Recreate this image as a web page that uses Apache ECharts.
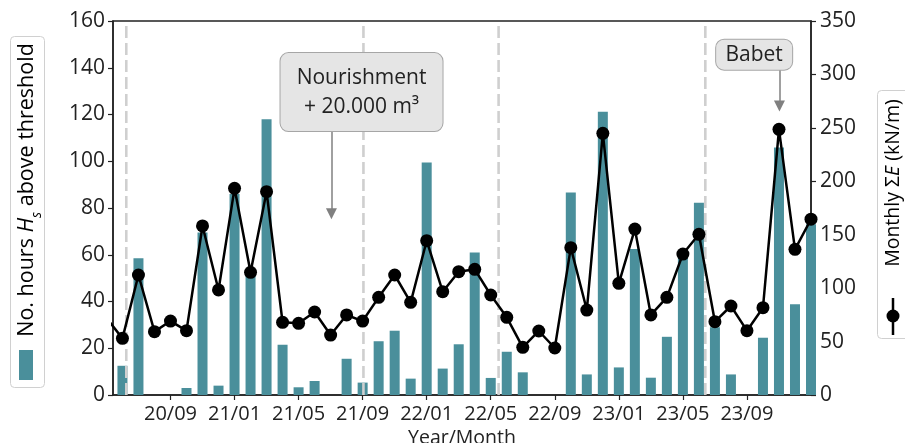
<!DOCTYPE html>
<html>
<head>
<meta charset="utf-8">
<script src="https://cdn.jsdelivr.net/npm/echarts@6/dist/echarts.min.js"></script>
<style>
  html, body { margin: 0; padding: 0; background: #fff; }
  #chart { width: 905px; height: 443px; }
</style>
</head>
<body>
<div id="chart"></div>
<script>
// Months from 2020-05 to 2024-01 (x position = index in this list)
const months = [
  '20/05','20/06','20/07','20/08','20/09','20/10','20/11','20/12',
  '21/01','21/02','21/03','21/04','21/05','21/06','21/07','21/08','21/09','21/10','21/11','21/12',
  '22/01','22/02','22/03','22/04','22/05','22/06','22/07','22/08','22/09','22/10','22/11','22/12',
  '23/01','23/02','23/03','23/04','23/05','23/06','23/07','23/08','23/09','23/10','23/11','23/12',
  '24/01'
];

// Number of hours with Hs above threshold, per month (left axis)
const hoursAbove = [
  null, 12.5, 58.5, 0, 0, 3, 69.5, 4,
  86, 52, 118, 21.5, 3.3, 6, 0, 15.5, 5.3, 23, 27.5, 7,
  99.5, 11.3, 21.7, 61, 7.3, 18.5, 9.7, 0, 0, 86.6, 8.8, 121.2,
  11.8, 62.5, 7.4, 24.9, 60, 82.2, 29, 8.8, 0, 24.5, 105.9, 38.8,
  73
];

// Monthly summed wave energy, kN/m (right axis)
const monthlyEnergy = [
  72, 53, 112.3, 59.3, 69.2, 60.2, 158.2, 98.3,
  193.4, 114.8, 190.3, 68, 67.1, 77.7, 56.1, 74.9, 69.2, 91.4, 112.3, 86.7,
  144.4, 96.7, 115.4, 117.6, 93.6, 72.7, 44.6, 59.9, 44, 137.9, 79.5, 244.9,
  104.5, 155.3, 74.9, 91.4, 131.9, 150.4, 68.6, 83.3, 60.2, 81.7, 248.6, 136.3,
  164.5
];

// Labelled months on the time axis
const tickMonths = ['20/09','21/01','21/05','21/09','22/01','22/05','22/09','23/01','23/05','23/09'];

// Survey / event dates drawn as dashed verticals (fractional month index)
const eventMarks = [1.24, 16.05, 24.49, 37.4];

// Visible time window (fractional month index)
const xStart = 0.41;
const xEnd = 44;

// Annotation anchors (month index, axis value)
const nourishment = { text: 'Nourishment\n+ 20.000 m³', box: [15.93, 129.6], arrowFrom: [14.05, 113.2], arrowTo: [14.05, 77.5] };
const babet = { text: 'Babet', box: [40.45, 318.5], arrowFrom: [42.03, 304.5], arrowTo: [42.03, 270.5] };

const TEAL = '#4a8f9b';
const FONT = 'Open Sans';

const tickValues = tickMonths.map(m => months.indexOf(m));
const barData = hoursAbove.map((v, i) => [i, v]);
const lineData = monthlyEnergy.map((v, i) => [i, v]);

const chart = echarts.init(document.getElementById('chart'), null, { renderer: 'canvas' });

const boxLabel = (text, w, pad) => ({
  show: true,
  position: 'inside',
  formatter: text,
  fontFamily: FONT,
  fontSize: 21,
  lineHeight: 29,
  color: '#222',
  backgroundColor: '#e5e5e5',
  borderColor: '#a6a6a6',
  borderWidth: 1,
  borderRadius: 8,
  width: w,
  align: 'center',
  padding: pad
});

const arrowMarkLine = (from, to) => ({
  silent: true,
  symbol: ['none', 'triangle'],
  symbolSize: 11,
  label: { show: false },
  lineStyle: { color: '#808080', width: 1.5, type: 'solid' },
  data: [[{ coord: from }, { coord: to }]]
});

// one dashed vertical per event, spanning the full left-axis range
const eventSeries = eventMarks.map(x => ({
  type: 'line',
  xAxisIndex: 0,
  yAxisIndex: 0,
  data: [[x, 0], [x, 160]],
  symbol: 'none',
  silent: true,
  z: 3,
  lineStyle: { color: '#cfcfcf', width: 2.6, type: [12, 5] }
}));

const axisLineStyle = { show: true, lineStyle: { color: '#222', width: 1.5 } };
const tickStyle = { show: true, inside: false, length: 5, lineStyle: { color: '#222', width: 1.2 } };

const option = {
  animation: false,
  backgroundColor: '#fff',
  textStyle: { fontFamily: FONT },
  grid: {
    left: 113, right: 94, top: 21, bottom: 48,
    outerBoundsMode: 'none',
    containLabel: false,
    show: true, borderColor: '#222', borderWidth: 1.5, backgroundColor: 'transparent'
  },
  xAxis: {
    type: 'value',
    min: xStart,
    max: xEnd,
    name: 'Year/Month',
    nameLocation: 'middle',
    nameGap: 33,
    nameTextStyle: { fontFamily: FONT, fontSize: 19.5, color: '#222' },
    axisLine: axisLineStyle,
    axisTick: Object.assign({ customValues: tickValues }, tickStyle),
    axisLabel: {
      show: true, customValues: tickValues, margin: 9,
      fontFamily: FONT, fontSize: 20, color: '#222',
      formatter: v => months[Math.round(v)]
    },
    splitLine: { show: false }
  },
  yAxis: [
    {
      type: 'value', min: 0, max: 160, interval: 20,
      axisLine: axisLineStyle,
      axisTick: tickStyle,
      axisLabel: { margin: 8, fontFamily: FONT, fontSize: 21, color: '#222' },
      splitLine: { show: false }
    },
    {
      type: 'value', min: 0, max: 350, interval: 50, position: 'right',
      axisLine: axisLineStyle,
      axisTick: tickStyle,
      axisLabel: { margin: 9, fontFamily: FONT, fontSize: 21, color: '#222' },
      splitLine: { show: false }
    }
  ],
  series: [
    {
      name: 'hours',
      type: 'bar',
      xAxisIndex: 0,
      yAxisIndex: 0,
      data: barData,
      barWidth: 10,
      itemStyle: { color: TEAL },
      clip: true,
      z: 2,
      silent: true,
      markLine: arrowMarkLine(nourishment.arrowFrom, nourishment.arrowTo),
      markPoint: {
        silent: true,
        symbol: 'rect',
        symbolSize: 1,
        itemStyle: { color: 'rgba(0,0,0,0)' },
        label: boxLabel(nourishment.text, 162, [10, 0, 10, 0]),
        data: [{ coord: nourishment.box }]
      }
    },
    ...eventSeries,
    {
      name: 'energy',
      type: 'line',
      xAxisIndex: 0,
      yAxisIndex: 1,
      data: lineData,
      clip: true,
      z: 4,
      silent: true,
      symbol: 'circle',
      symbolSize: 13,
      showAllSymbol: true,
      lineStyle: { color: '#000', width: 2.5 },
      itemStyle: { color: '#000' },
      markLine: arrowMarkLine(babet.arrowFrom, babet.arrowTo),
      markPoint: {
        silent: true,
        symbol: 'rect',
        symbolSize: 1,
        itemStyle: { color: 'rgba(0,0,0,0)' },
        label: boxLabel(babet.text, 76, [1, 0, 0, 0]),
        data: [{ coord: babet.box }]
      }
    }
  ],
  graphic: [
    // left legend, acting as the left axis title
    { type: 'rect', shape: { x: 10.5, y: 36.5, width: 34, height: 351, r: 4 },
      style: { fill: '#fff', stroke: '#d0d0d0', lineWidth: 1 }, z: 10 },
    { type: 'text', x: 27, y: 190, rotation: Math.PI / 2, z: 11,
      style: {
        text: '{a|No. hours }{i|H}{s|s}{a| above threshold}',
        align: 'center', verticalAlign: 'middle',
        textAlign: 'center', textVerticalAlign: 'middle',
        rich: {
          a: { fontFamily: FONT, fontSize: 21.5, color: '#222', lineHeight: 26 },
          i: { fontFamily: FONT, fontSize: 21.5, fontStyle: 'italic', color: '#222', lineHeight: 26 },
          s: { fontFamily: FONT, fontSize: 14, fontStyle: 'italic', color: '#222', lineHeight: 26, verticalAlign: 'bottom', padding: [0, 0, -4, 0] }
        }
      } },
    { type: 'rect', shape: { x: 19, y: 350, width: 14, height: 30 }, style: { fill: TEAL }, z: 11 },
    // right legend, acting as the right axis title
    { type: 'rect', shape: { x: 877.5, y: 90.5, width: 40, height: 248, r: 4 },
      style: { fill: '#fff', stroke: '#d0d0d0', lineWidth: 1 }, z: 10 },
    { type: 'text', x: 893, y: 183, rotation: Math.PI / 2, z: 11,
      style: {
        text: '{a|Monthly Σ}{i|E}{a| (kN/m)}',
        align: 'center', verticalAlign: 'middle',
        textAlign: 'center', textVerticalAlign: 'middle',
        rich: {
          a: { fontFamily: FONT, fontSize: 19.5, color: '#222' },
          i: { fontFamily: FONT, fontSize: 19.5, fontStyle: 'italic', color: '#222' }
        }
      } },
    { type: 'line', shape: { x1: 893, y1: 298, x2: 893, y2: 335 }, style: { stroke: '#000', lineWidth: 2.5 }, z: 11 },
    { type: 'circle', shape: { cx: 893, cy: 316, r: 6.5 }, style: { fill: '#000' }, z: 12 }
  ]
};

chart.setOption(option);
</script>
</body>
</html>
